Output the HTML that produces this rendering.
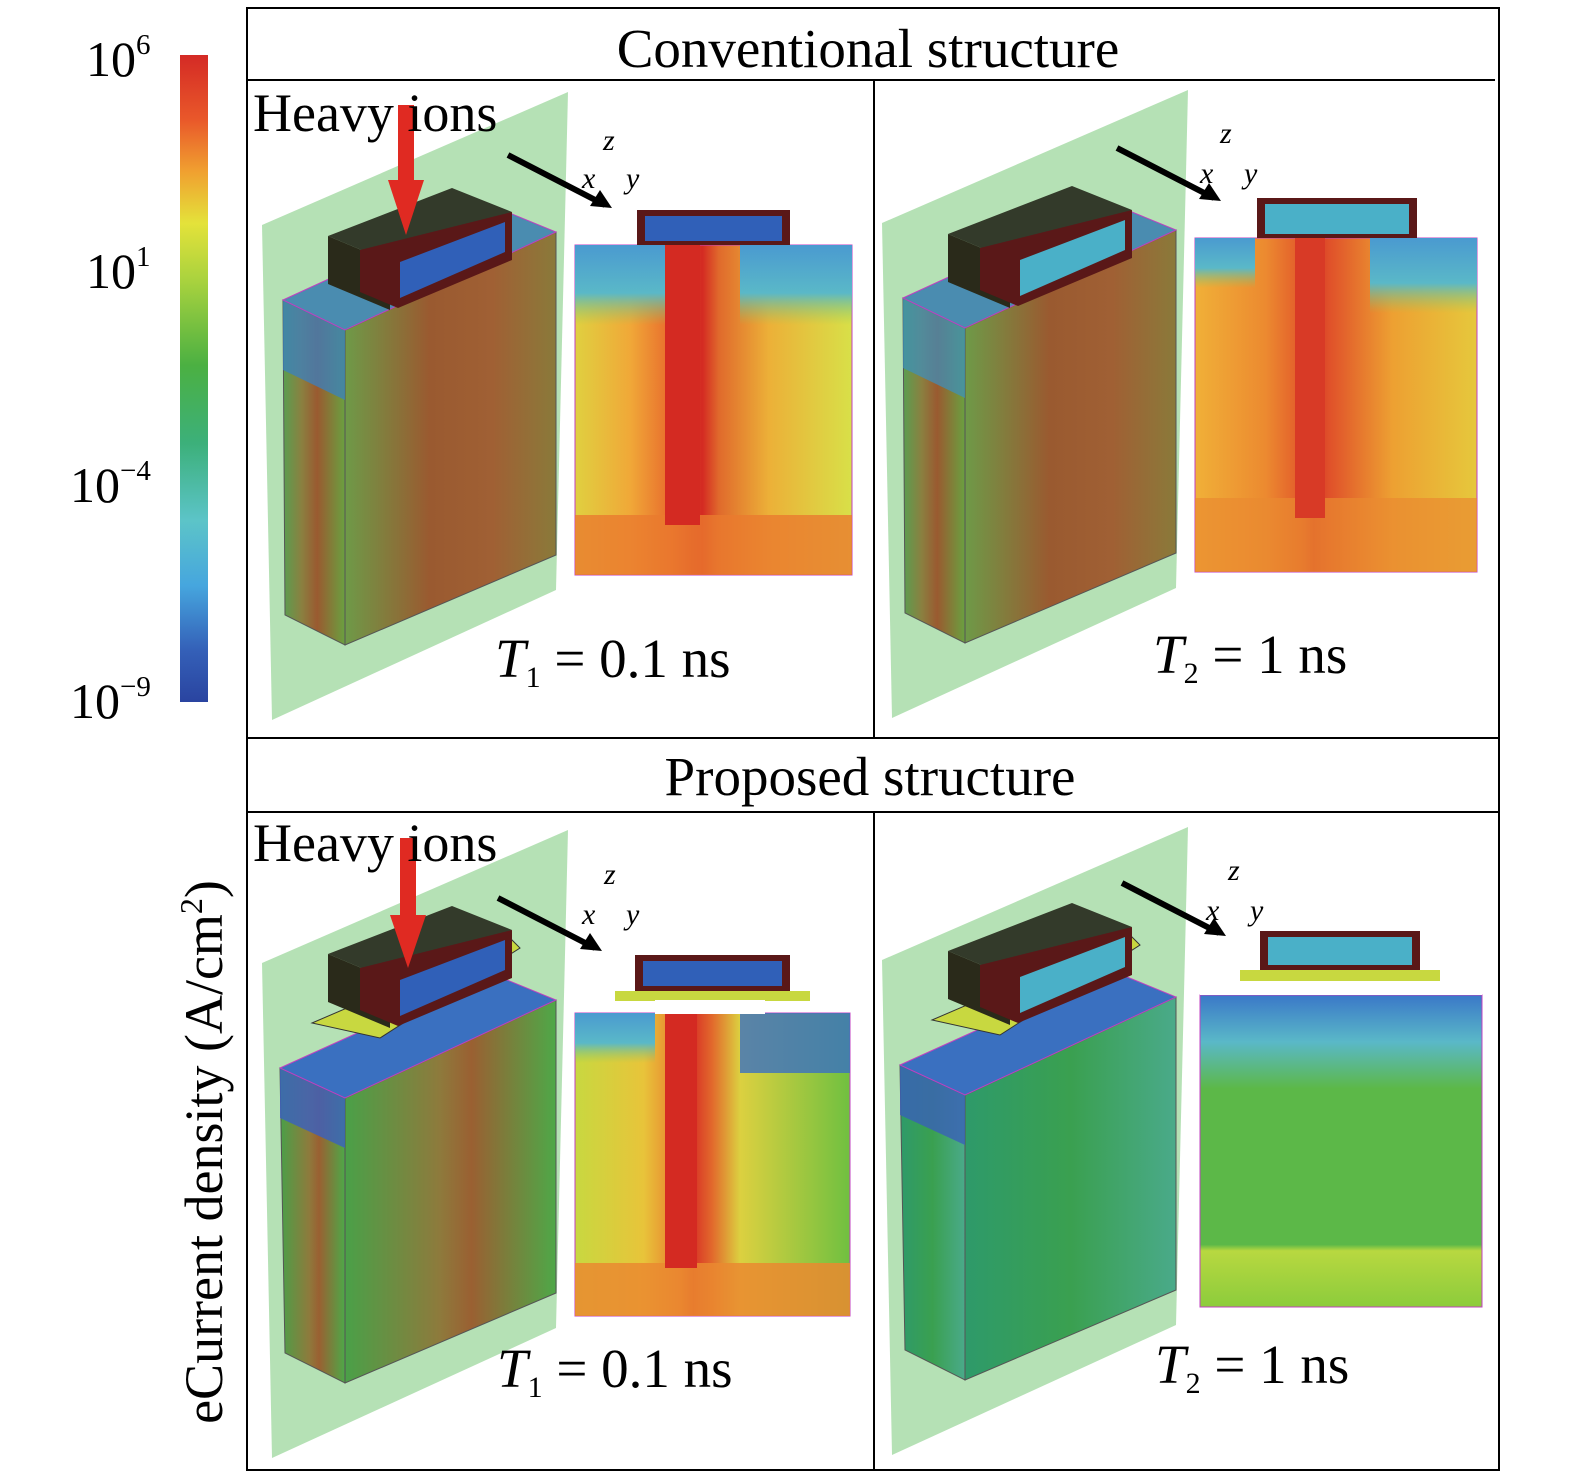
<!DOCTYPE html>
<html><head><meta charset="utf-8"><style>
html,body{margin:0;padding:0;background:#fff}
svg{display:block;font-family:"Liberation Serif",serif}
</style></head><body>
<svg width="1575" height="1482" viewBox="0 0 1575 1482">
<defs>
<linearGradient id="cbar" x1="0" y1="0" x2="0" y2="1">
<stop offset="0" stop-color="#d42a25"/><stop offset="0.1" stop-color="#e9582a"/><stop offset="0.18" stop-color="#f0a030"/><stop offset="0.26" stop-color="#e4e23a"/><stop offset="0.35" stop-color="#a8d23e"/><stop offset="0.48" stop-color="#4bb042"/><stop offset="0.6" stop-color="#3cb07a"/><stop offset="0.72" stop-color="#5cc4c8"/><stop offset="0.82" stop-color="#46a6de"/><stop offset="0.92" stop-color="#3460b8"/><stop offset="1" stop-color="#2a44a0"/>
</linearGradient>
<linearGradient id="csHot" x1="0" y1="0" x2="1" y2="0">
<stop offset="0" stop-color="#e0d040"/><stop offset="0.2" stop-color="#f0a838"/><stop offset="0.35" stop-color="#e86a2c"/><stop offset="0.42" stop-color="#d83a26"/><stop offset="0.46" stop-color="#d42a22"/><stop offset="0.52" stop-color="#e06a2c"/><stop offset="0.7" stop-color="#ecb038"/><stop offset="1" stop-color="#d8e048"/>
</linearGradient>
<linearGradient id="csHot2" x1="0" y1="0" x2="1" y2="0">
<stop offset="0" stop-color="#f0b038"/><stop offset="0.25" stop-color="#ec8a30"/><stop offset="0.38" stop-color="#e25a2a"/><stop offset="0.42" stop-color="#d83a26"/><stop offset="0.48" stop-color="#e0522a"/><stop offset="0.7" stop-color="#eda032"/><stop offset="1" stop-color="#e6c83c"/>
</linearGradient>
<linearGradient id="csMid" x1="0" y1="0" x2="1" y2="0">
<stop offset="0" stop-color="#c8d840"/><stop offset="0.25" stop-color="#e8c43a"/><stop offset="0.38" stop-color="#e87a2e"/><stop offset="0.43" stop-color="#d83426"/><stop offset="0.5" stop-color="#e26a2c"/><stop offset="0.6" stop-color="#dcd040"/><stop offset="1" stop-color="#70c040"/>
</linearGradient>
<linearGradient id="csCool" x1="0" y1="0" x2="0" y2="1">
<stop offset="0" stop-color="#3a78c8"/><stop offset="0.15" stop-color="#5ab8c8"/><stop offset="0.3" stop-color="#5cb848"/><stop offset="0.8" stop-color="#5cb848"/><stop offset="0.82" stop-color="#b8d840"/><stop offset="1" stop-color="#8ccc3c"/>
</linearGradient>
<linearGradient id="topFade" x1="0" y1="0" x2="0" y2="1">
<stop offset="0" stop-color="#4a9ad0"/><stop offset="0.6" stop-color="#5ab8c8"/><stop offset="1" stop-color="#8cc860" stop-opacity="0"/>
</linearGradient>
<linearGradient id="blkHot" x1="0" y1="0" x2="1" y2="0">
<stop offset="0" stop-color="#5a9e50"/><stop offset="0.3" stop-color="#8a8040"/><stop offset="0.55" stop-color="#9a5a30"/><stop offset="1" stop-color="#6aa040"/>
</linearGradient>
<linearGradient id="blkHot2" x1="0" y1="0" x2="1" y2="0">
<stop offset="0" stop-color="#6e9a48"/><stop offset="0.4" stop-color="#9a5a30"/><stop offset="0.7" stop-color="#a06034"/><stop offset="1" stop-color="#8a7a3a"/>
</linearGradient>
<linearGradient id="blkMid" x1="0" y1="0" x2="1" y2="0">
<stop offset="0" stop-color="#4aa048"/><stop offset="0.45" stop-color="#8e7a3c"/><stop offset="0.6" stop-color="#9a6032"/><stop offset="1" stop-color="#4ea848"/>
</linearGradient>
<linearGradient id="blkCool" x1="0" y1="0" x2="1" y2="0">
<stop offset="0" stop-color="#2e9a6a"/><stop offset="0.5" stop-color="#3aa050"/><stop offset="1" stop-color="#4aaa8a"/>
</linearGradient>
</defs>

<rect x="247" y="8" width="1252" height="1462" fill="none" stroke="#000" stroke-width="2"/>
<line x1="247" y1="80" x2="1495" y2="80" stroke="#000" stroke-width="2"/>
<line x1="247" y1="738" x2="1499" y2="738" stroke="#000" stroke-width="2"/>
<line x1="247" y1="812" x2="1499" y2="812" stroke="#000" stroke-width="2"/>
<line x1="874" y1="80" x2="874" y2="738" stroke="#000" stroke-width="2"/>
<line x1="874" y1="812" x2="874" y2="1470" stroke="#000" stroke-width="2"/>
<text x="868" y="67" font-size="55" text-anchor="middle">Conventional structure</text>
<text x="870" y="795" font-size="55" text-anchor="middle">Proposed structure</text>

<rect x="180" y="55" width="28" height="647" fill="url(#cbar)"/>
<g font-size="50">
<text x="86" y="76">10<tspan font-size="29" dy="-22">6</tspan></text>
<text x="86" y="288">10<tspan font-size="29" dy="-22">1</tspan></text>
<text x="70" y="502">10<tspan font-size="29" dy="-22">−4</tspan></text>
<text x="70" y="718">10<tspan font-size="29" dy="-22">−9</tspan></text>
</g>
<text transform="translate(222,1152) rotate(-90)" font-size="54" text-anchor="middle">eCurrent density (A/cm<tspan font-size="32" dy="-20">2</tspan><tspan dy="20">)</tspan></text>

<g>
<polygon points="262,225 568,92 556,590 272,720" fill="#a8dca8" opacity="0.85"/>
<polygon points="283,300 345,330 345,645 285,615" fill="url(#blkHot)" stroke="#555"/>
<polygon points="345,330 556,232 556,555 345,645" fill="url(#blkHot2)" stroke="#555"/>
<polygon points="283,300 345,330 345,400 283,370" fill="#3a80c0" opacity="0.75"/>
<polygon points="283,300 490,205 556,232 345,330" fill="#4a8cb0" stroke="#c040c0"/>
<polygon points="328,236 452,188 512,212 390,262" fill="#333a2a"/>
<polygon points="328,236 390,262 390,310 328,284" fill="#2a2a1a"/>
<polygon points="360,250 512,212 512,260 398,308 360,292" fill="#5a1818"/>
<polygon points="400,262 505,222 505,252 400,298" fill="#3060b8"/>
<rect x="575" y="245" width="277" height="330" fill="url(#csHot)" stroke="#c040c0"/>
<rect x="575" y="245" width="95" height="80" fill="url(#topFade)"/>
<rect x="740" y="245" width="112" height="80" fill="url(#topFade)"/>
<rect x="575" y="515" width="277" height="60" fill="#ea7a2e" opacity="0.8"/>
<rect x="665" y="245" width="35" height="280" fill="#d42a22"/>
<rect x="637" y="210" width="153" height="35" fill="#5a1818"/>
<rect x="645" y="216" width="137" height="25" fill="#3060b8"/>
<line x1="508" y1="155" x2="605" y2="205" stroke="#000" stroke-width="6"/>
<polygon points="612,208 590,206 600,190" fill="#000"/>
<text x="603" y="150" font-size="30" font-style="italic">z</text>
<text x="582" y="188" font-size="30" font-style="italic">x</text>
<text x="626" y="188" font-size="30" font-style="italic">y</text>
</g>
<rect x="398" y="105" width="16" height="90" fill="#e02a22"/>
<polygon points="388,180 424,180 406,235" fill="#e02a22"/>
<text x="253" y="131" font-size="54">Heavy ions</text>
<text x="495" y="677" font-size="55"><tspan font-style="italic">T</tspan><tspan font-size="30" dy="10">1</tspan><tspan dy="-10"> = 0.1 ns</tspan></text>

<g transform="translate(620,-2)">
<polygon points="262,225 568,92 556,590 272,720" fill="#a8dca8" opacity="0.85"/>
<polygon points="283,300 345,330 345,645 285,615" fill="url(#blkHot)" stroke="#555"/>
<polygon points="345,330 556,232 556,555 345,645" fill="url(#blkHot2)" stroke="#555"/>
<polygon points="283,300 345,330 345,400 283,370" fill="#3a90c0" opacity="0.7"/>
<polygon points="283,300 490,205 556,232 345,330" fill="#4a8cb0" stroke="#c040c0"/>
<polygon points="328,236 452,188 512,212 390,262" fill="#333a2a"/>
<polygon points="328,236 390,262 390,310 328,284" fill="#2a2a1a"/>
<polygon points="360,250 512,212 512,260 398,308 360,292" fill="#5a1818"/>
<polygon points="400,262 505,222 505,252 400,298" fill="#4ab0c8"/>
<rect x="575" y="240" width="282" height="334" fill="url(#csHot2)" stroke="#c040c0"/>
<rect x="750" y="240" width="107" height="75" fill="url(#topFade)"/>
<rect x="575" y="240" width="60" height="50" fill="url(#topFade)"/>
<rect x="575" y="500" width="282" height="74" fill="#ea8a30" opacity="0.7"/>
<rect x="675" y="240" width="30" height="280" fill="#d83a26"/>
<rect x="637" y="200" width="160" height="40" fill="#5a1818"/>
<rect x="645" y="206" width="144" height="30" fill="#4ab0c8"/>
<line x1="497" y1="150" x2="594" y2="200" stroke="#000" stroke-width="6"/>
<polygon points="601,203 579,201 589,185" fill="#000"/>
<text x="600" y="145" font-size="30" font-style="italic">z</text>
<text x="580" y="185" font-size="30" font-style="italic">x</text>
<text x="624" y="185" font-size="30" font-style="italic">y</text>
</g>
<text x="1153" y="673" font-size="55"><tspan font-style="italic">T</tspan><tspan font-size="30" dy="10">2</tspan><tspan dy="-10"> = 1 ns</tspan></text>

<g transform="translate(0,738)">
<polygon points="262,225 568,92 556,590 272,720" fill="#a8dca8" opacity="0.85"/>
<polygon points="280,330 345,360 345,645 285,615" fill="url(#blkMid)" stroke="#555"/>
<polygon points="345,360 556,262 556,555 345,645" fill="url(#blkMid)" stroke="#555"/>
<polygon points="280,330 345,360 345,410 280,380" fill="#3a60c0" opacity="0.8"/>
<polygon points="280,330 490,235 556,262 345,360" fill="#3a70c0" stroke="#c040c0"/>
<polygon points="312,285 510,200 520,210 380,300" fill="#c8d840" stroke="#333"/>
<polygon points="328,216 452,168 512,192 390,242" fill="#333a2a"/>
<polygon points="328,216 390,242 390,290 328,264" fill="#2a2a1a"/>
<polygon points="360,230 512,192 512,240 398,288 360,272" fill="#5a1818"/>
<polygon points="400,242 505,202 505,232 400,278" fill="#3060b8"/>
<rect x="575" y="275" width="275" height="303" fill="url(#csMid)" stroke="#c040c0"/>
<rect x="575" y="275" width="80" height="50" fill="url(#topFade)"/>
<rect x="740" y="275" width="110" height="60" fill="#3a70c0" opacity="0.8"/>
<rect x="575" y="525" width="275" height="53" fill="#ea8a30" opacity="0.85"/>
<rect x="665" y="275" width="32" height="255" fill="#d42a22"/>
<rect x="615" y="253" width="195" height="10" fill="#c8d840"/>
<rect x="655" y="262" width="110" height="14" fill="#fff"/>
<rect x="635" y="217" width="155" height="36" fill="#5a1818"/>
<rect x="643" y="223" width="139" height="25" fill="#3060b8"/>
<line x1="498" y1="160" x2="595" y2="210" stroke="#000" stroke-width="6"/>
<polygon points="602,213 580,211 590,195" fill="#000"/>
<text x="604" y="146" font-size="30" font-style="italic">z</text>
<text x="582" y="186" font-size="30" font-style="italic">x</text>
<text x="626" y="186" font-size="30" font-style="italic">y</text>
</g>
<rect x="400" y="838" width="16" height="90" fill="#e02a22"/>
<polygon points="390,915 426,915 408,968" fill="#e02a22"/>
<text x="253" y="861" font-size="54">Heavy ions</text>
<text x="497" y="1387" font-size="55"><tspan font-style="italic">T</tspan><tspan font-size="30" dy="10">1</tspan><tspan dy="-10"> = 0.1 ns</tspan></text>

<g transform="translate(620,735)">
<polygon points="262,225 568,92 556,590 272,720" fill="#a8dca8" opacity="0.85"/>
<polygon points="280,330 345,360 345,645 285,615" fill="url(#blkCool)" stroke="#555"/>
<polygon points="345,360 556,262 556,555 345,645" fill="url(#blkCool)" stroke="#555"/>
<polygon points="280,330 345,360 345,410 280,380" fill="#3a60b8" opacity="0.8"/>
<polygon points="280,330 490,235 556,262 345,360" fill="#3a70c0" stroke="#c040c0"/>
<polygon points="312,285 510,200 520,210 380,300" fill="#c8d840" stroke="#333"/>
<polygon points="328,216 452,168 512,192 390,242" fill="#333a2a"/>
<polygon points="328,216 390,242 390,290 328,264" fill="#2a2a1a"/>
<polygon points="360,230 512,192 512,240 398,288 360,272" fill="#5a1818"/>
<polygon points="400,242 505,202 505,232 400,278" fill="#4ab0c8"/>
<rect x="580" y="260" width="282" height="312" fill="url(#csCool)" stroke="#c040c0"/>
<rect x="620" y="235" width="200" height="12" fill="#c8d840"/>
<rect x="660" y="246" width="120" height="14" fill="#fff"/>
<rect x="580" y="246" width="80" height="14" fill="#fff"/>
<rect x="780" y="246" width="82" height="14" fill="#fff"/>
<rect x="640" y="196" width="160" height="39" fill="#5a1818"/>
<rect x="648" y="202" width="144" height="28" fill="#4ab0c8"/>
<line x1="502" y1="148" x2="599" y2="198" stroke="#000" stroke-width="6"/>
<polygon points="606,201 584,199 594,183" fill="#000"/>
<text x="608" y="145" font-size="30" font-style="italic">z</text>
<text x="586" y="185" font-size="30" font-style="italic">x</text>
<text x="630" y="185" font-size="30" font-style="italic">y</text>
</g>
<text x="1155" y="1383" font-size="55"><tspan font-style="italic">T</tspan><tspan font-size="30" dy="10">2</tspan><tspan dy="-10"> = 1 ns</tspan></text>
</svg>
</body></html>
